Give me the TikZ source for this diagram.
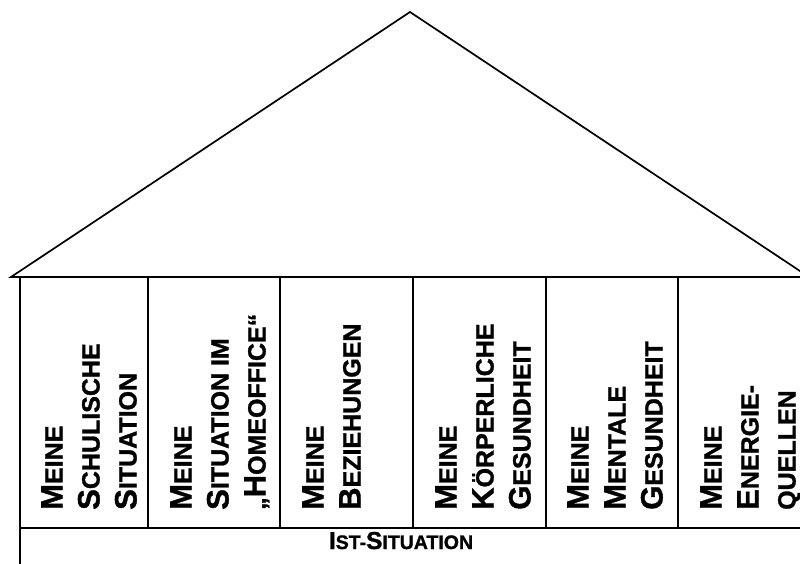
\documentclass[tikz,border=0pt]{standalone}
\usepackage{fontspec}
\setmainfont{Liberation Sans}[BoldFeatures={FakeBold=1.2}]
\newcommand{\kap} [2]{#1{\fontsize{25}{37}\selectfont #2}}  % first letter big, rest small caps
\newcommand{\kapu}[2]{#1{\fontsize{19.5}{24}\selectfont #2}}
\def\roofy{277}
\def\floory{528}
\def\textbase{510}
\tikzset{
  semithick,
  house line/.style={
    line width=1.7pt,
    line join=miter
  },
  col text/.style={
    rotate=90,
    anchor=north west,  % start of first line sits bottom left
    align=left,
    inner sep=0mm,
    font=\fontsize{31}{37}\selectfont\bfseries
  },
  base text/.style={
    anchor=base,
    inner sep=0mm,
    font=\fontsize{24.5}{28}\selectfont\bfseries
  }
}
\begin{document}
\begin{tikzpicture}[x=1pt,y=-1pt]
\useasboundingbox (0,0) rectangle (800,563);
% roof
\coordinate (top)    at (410,12);
\coordinate (eave l) at (11,\roofy);
\coordinate (eave r) at (809,\roofy);
\draw[house line] (eave l) -- (top) -- (eave r) -- cycle;
% walls and columns
\draw[house line] (20,\roofy) -- (20,600);
\draw[house line] (810,\roofy) -- (810,600);
\draw[house line] (20,\floory) -- (810,\floory);
\foreach \x in {148,280,413,546,678}
  \draw[house line] (\x,\roofy) -- (\x,\floory);
% column labels
\node[col text] (schule)     at (41,\textbase)  {\kap{M}{EINE}\\\kap{S}{CHULISCHE}\\\kap{S}{ITUATION}};
\node[col text] (homeoffice) at (170,\textbase) {\kap{M}{EINE}\\\kap{S}{ITUATION IM}\\{\fontsize{25}{37}\selectfont „}\kap{H}{OMEOFFICE“}};
\node[col text] (beziehung)  at (302,\textbase) {\kap{M}{EINE}\\\kap{B}{EZIEHUNGEN}};
\node[col text] (koerper)    at (435,\textbase) {\kap{M}{EINE}\\\kap{K}{ÖRPERLICHE}\\\kap{G}{ESUNDHEIT}};
\node[col text] (mental)     at (567,\textbase) {\kap{M}{EINE}\\\kap{M}{ENTALE}\\\kap{G}{ESUNDHEIT}};
\node[col text] (energie)    at (700,\textbase) {\kap{M}{EINE}\\\kap{E}{NERGIE-}\\{\fontsize{25}{37}\selectfont QUELLEN}};
% foundation
\node[base text] (ist) at (401,549) {\kapu{I}{ST-}\kapu{S}{ITUATION}};
\end{tikzpicture}
\end{document}
